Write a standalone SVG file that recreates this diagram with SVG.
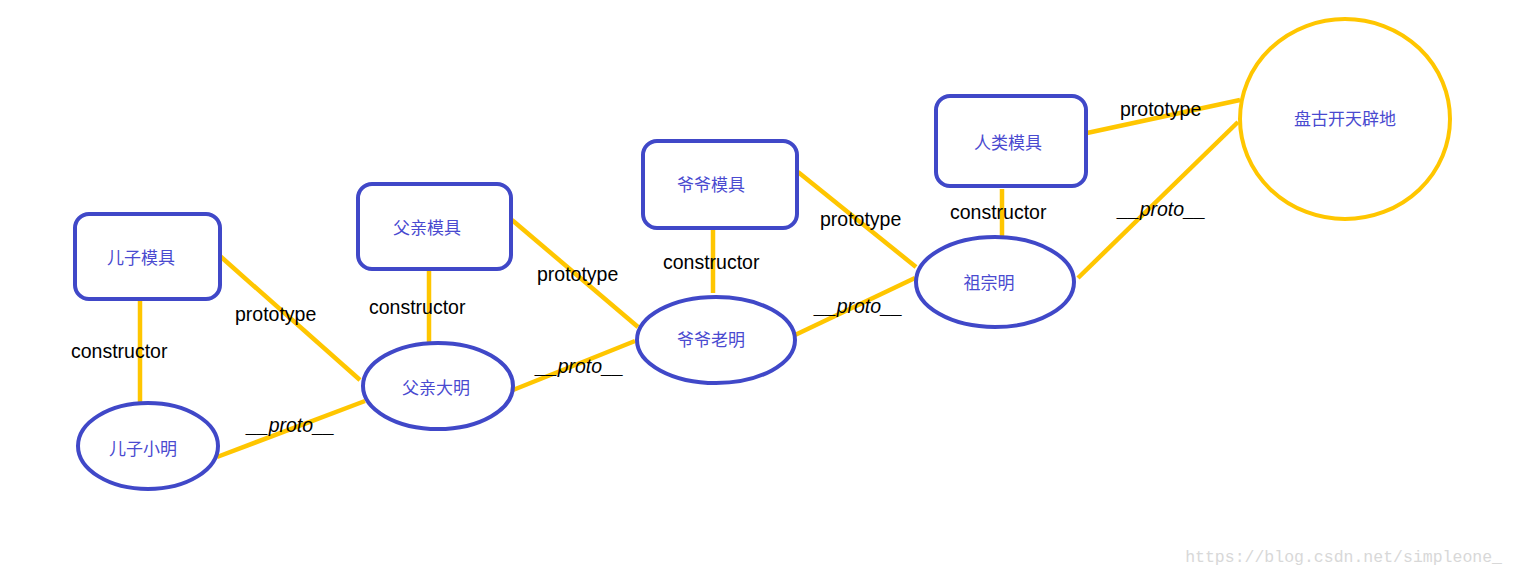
<svg xmlns="http://www.w3.org/2000/svg" width="1513" height="576" viewBox="0 0 1513 576">
<style>
.n{fill:#fff;stroke:#4048c8;stroke-width:4}
.t{font-family:"Noto Sans CJK SC",sans-serif;font-size:17px;fill:#4a4ad0;text-anchor:middle;dominant-baseline:central}
.c line{stroke:#ffc600;stroke-width:4.5}
.l{font-family:"Liberation Sans",sans-serif;font-size:19.5px;fill:#000}
.i{font-style:italic}
</style>
<rect width="1513" height="576" fill="#fff"/>
<g class="c">
<line x1="140" y1="301" x2="140" y2="404"/>
<line x1="220" y1="256" x2="360" y2="380"/>
<line x1="217" y1="457" x2="365" y2="401"/>
<line x1="429" y1="269" x2="429" y2="344"/>
<line x1="512" y1="220" x2="638" y2="327"/>
<line x1="513" y1="390" x2="635" y2="341"/>
<line x1="713" y1="228" x2="713" y2="293"/>
<line x1="798" y1="172" x2="916" y2="267"/>
<line x1="795" y1="335" x2="915" y2="278"/>
<line x1="1002" y1="189" x2="1002" y2="238"/>
<line x1="1087" y1="133" x2="1240" y2="100"/>
<line x1="1078" y1="278" x2="1238" y2="122"/>
</g>
<g id="labels">
<text class="l" x="71" y="358">constructor</text>
<text class="l" x="235" y="321">prototype</text>
<text class="l i" x="247" y="432">__proto__</text>
<text class="l" x="369" y="314">constructor</text>
<text class="l" x="537" y="281">prototype</text>
<text class="l i" x="536" y="373">__proto__</text>
<text class="l" x="663" y="269">constructor</text>
<text class="l" x="820" y="226">prototype</text>
<text class="l i" x="815" y="313">__proto__</text>
<text class="l" x="950" y="219">constructor</text>
<text class="l" x="1120" y="116">prototype</text>
<text class="l i" x="1118" y="216">__proto__</text>
</g>
<g id="n1"><rect class="n" x="75" y="214" width="145" height="85" rx="14"/><text class="t" x="141" y="256">儿子模具</text></g>
<g id="n2"><ellipse class="n" cx="148" cy="446" rx="70" ry="43"/><text class="t" x="143" y="447">儿子小明</text></g>
<g id="n3"><rect class="n" x="358" y="184" width="153" height="85" rx="14"/><text class="t" x="427" y="226">父亲模具</text></g>
<g id="n4"><ellipse class="n" cx="438" cy="386" rx="75" ry="43"/><text class="t" x="436" y="386">父亲大明</text></g>
<g id="n5"><rect class="n" x="643" y="141" width="154" height="87" rx="14"/><text class="t" x="711" y="183">爷爷模具</text></g>
<g id="n6"><ellipse class="n" cx="716" cy="340" rx="79" ry="43"/><text class="t" x="711" y="338">爷爷老明</text></g>
<g id="n7"><rect class="n" x="936" y="96" width="150" height="90" rx="14"/><text class="t" x="1008" y="141">人类模具</text></g>
<g id="n8"><ellipse class="n" cx="995" cy="282" rx="79" ry="45"/><text class="t" x="989" y="281">祖宗明</text></g>
<g id="n9"><ellipse cx="1345" cy="119" rx="105" ry="100" fill="#fff" stroke="#ffc600" stroke-width="4"/><text class="t" x="1345" y="117">盘古开天辟地</text></g>
<text x="1502" y="562" text-anchor="end" font-family="Liberation Mono,monospace" font-size="16.5" fill="#d8d8d8">https://blog.csdn.net/simpleone_</text>
</svg>
